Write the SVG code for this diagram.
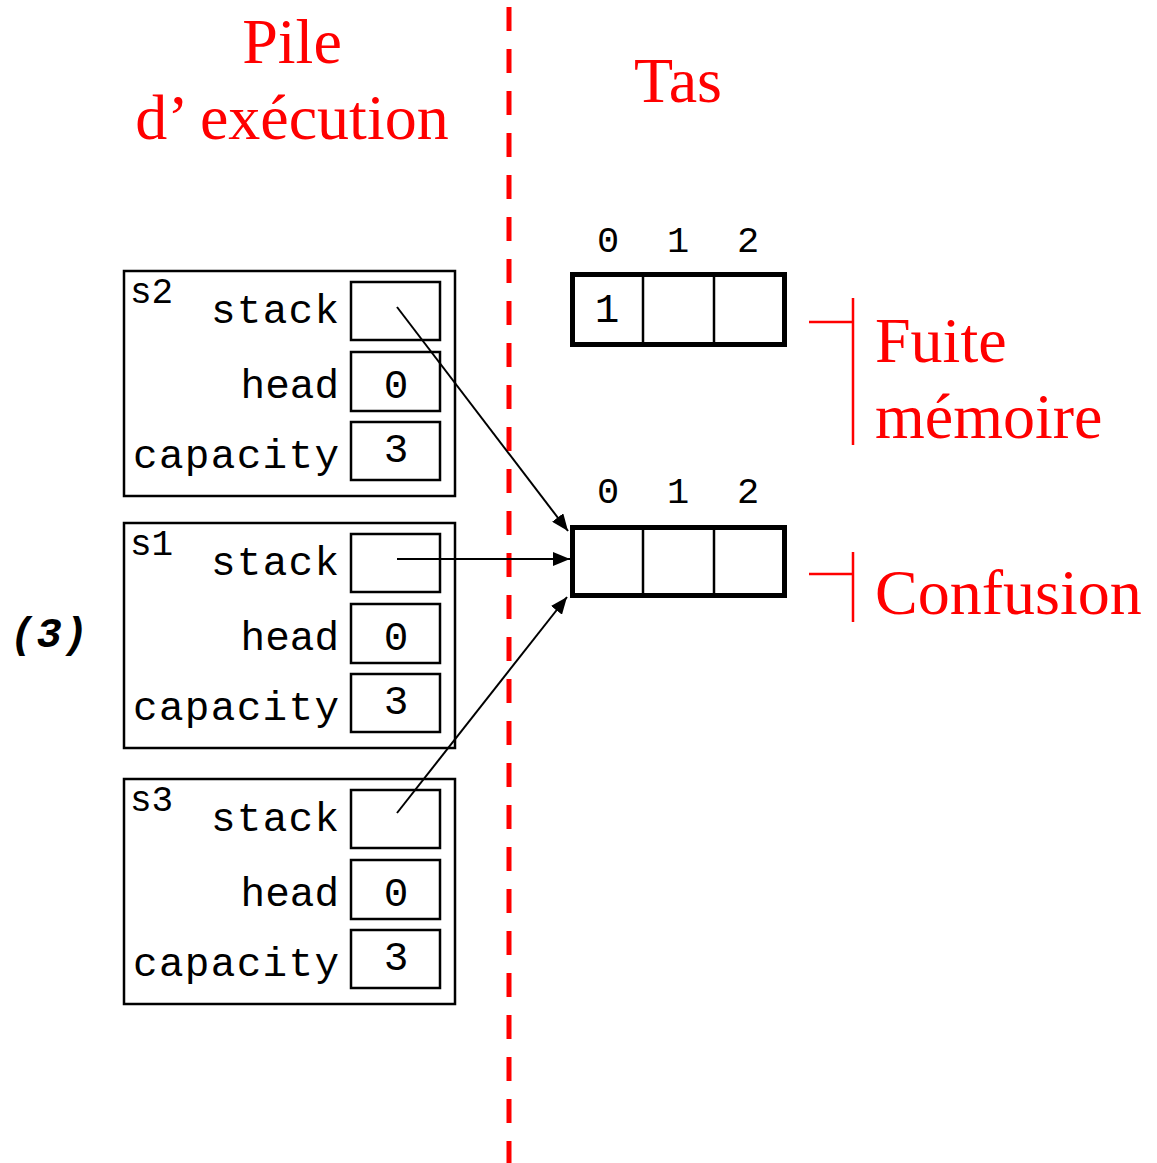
<svg xmlns="http://www.w3.org/2000/svg" width="1157" height="1163" viewBox="0 0 1157 1163">
<style>
.red{font-family:"Liberation Serif","Times New Roman",serif;font-size:64px;fill:#ff0000}
.mono{font-family:"Liberation Mono","Courier New",monospace;font-size:41px;fill:#000}
.lbl{font-family:"Liberation Mono","Courier New",monospace;font-size:36px;fill:#000}
.idx{font-family:"Liberation Mono","Courier New",monospace;font-size:37px;fill:#000;text-anchor:middle}
.box{fill:none;stroke:#000;stroke-width:2.5}
.arr{fill:none;stroke:#000;stroke-width:5}
.div{stroke:#000;stroke-width:2.5}
.redl{stroke:#ff0000;stroke-width:2.5;fill:none}
.conn{stroke:#000;stroke-width:2;fill:none;marker-end:url(#ah)}
</style>
<defs>
<marker id="ah" markerUnits="userSpaceOnUse" markerWidth="18" markerHeight="14" refX="17" refY="7" orient="auto">
<path d="M0,0 L17,7 L0,14 z" fill="#000"/>
</marker>
</defs>
<rect width="1157" height="1163" fill="#fff"/>
<line x1="509" y1="7" x2="509" y2="1163" stroke="#ff0000" stroke-width="5" stroke-dasharray="24 18"/>
<g id="titles">
<text class="red" x="292" y="63" text-anchor="middle">Pile</text>
<text class="red" x="292" y="139" text-anchor="middle">d’ exécution</text>
<text class="red" x="678" y="102" text-anchor="middle">Tas</text>
</g>
<text id="step" x="10" y="647" font-family="Liberation Mono,monospace" font-size="42" font-weight="bold" font-style="italic" textLength="78" lengthAdjust="spacing">(3)</text>
<g id="s2">
<rect class="box" x="124" y="271" width="331" height="225"/>
<text class="lbl" x="130" y="303">s2</text>
<text class="mono" x="339" y="323" text-anchor="end" textLength="128" lengthAdjust="spacing">stack</text>
<text class="mono" x="339" y="398" text-anchor="end">head</text>
<text class="mono" x="339" y="468" text-anchor="end" textLength="206" lengthAdjust="spacing">capacity</text>
<rect class="box" x="351" y="282" width="89" height="58"/>
<rect class="box" x="351" y="352" width="89" height="59"/>
<rect class="box" x="351" y="422" width="89" height="58"/>
<text class="mono" x="396" y="398" text-anchor="middle">0</text>
<text class="mono" x="396" y="462" text-anchor="middle">3</text>
</g>
<g id="s1">
<rect class="box" x="124" y="523" width="331" height="225"/>
<text class="lbl" x="130" y="555">s1</text>
<text class="mono" x="339" y="575" text-anchor="end" textLength="128" lengthAdjust="spacing">stack</text>
<text class="mono" x="339" y="650" text-anchor="end">head</text>
<text class="mono" x="339" y="720" text-anchor="end" textLength="206" lengthAdjust="spacing">capacity</text>
<rect class="box" x="351" y="534" width="89" height="58"/>
<rect class="box" x="351" y="604" width="89" height="59"/>
<rect class="box" x="351" y="674" width="89" height="58"/>
<text class="mono" x="396" y="650" text-anchor="middle">0</text>
<text class="mono" x="396" y="714" text-anchor="middle">3</text>
</g>
<g id="s3">
<rect class="box" x="124" y="779" width="331" height="225"/>
<text class="lbl" x="130" y="811">s3</text>
<text class="mono" x="339" y="831" text-anchor="end" textLength="128" lengthAdjust="spacing">stack</text>
<text class="mono" x="339" y="906" text-anchor="end">head</text>
<text class="mono" x="339" y="976" text-anchor="end" textLength="206" lengthAdjust="spacing">capacity</text>
<rect class="box" x="351" y="790" width="89" height="58"/>
<rect class="box" x="351" y="860" width="89" height="59"/>
<rect class="box" x="351" y="930" width="89" height="58"/>
<text class="mono" x="396" y="906" text-anchor="middle">0</text>
<text class="mono" x="396" y="970" text-anchor="middle">3</text>
</g>
<g id="array1">
<text class="idx" x="608" y="252">0</text>
<text class="idx" x="678" y="252">1</text>
<text class="idx" x="748" y="252">2</text>
<rect class="arr" x="572.5" y="274.5" width="212" height="70"/>
<line class="div" x1="643" y1="274" x2="643" y2="345"/>
<line class="div" x1="714" y1="274" x2="714" y2="345"/>
<text class="mono" x="607" y="322" text-anchor="middle">1</text>
</g>
<g id="array2">
<text class="idx" x="608" y="503">0</text>
<text class="idx" x="678" y="503">1</text>
<text class="idx" x="748" y="503">2</text>
<rect class="arr" x="572.5" y="527.5" width="212" height="68"/>
<line class="div" x1="643" y1="527" x2="643" y2="596"/>
<line class="div" x1="714" y1="527" x2="714" y2="596"/>
</g>
<g id="leak">
<path class="redl" d="M809,322 H853 M853,298 V445"/>
<text class="red" x="875" y="362">Fuite</text>
<text class="red" x="875" y="438">mémoire</text>
</g>
<g id="confusion">
<path class="redl" d="M809,574 H853 M853,552 V622"/>
<text class="red" x="875" y="614">Confusion</text>
</g>
<g id="connectors">
<line class="conn" x1="397" y1="307" x2="568" y2="531"/>
<line class="conn" x1="397" y1="559" x2="570" y2="559"/>
<line class="conn" x1="397" y1="813" x2="567" y2="597"/>
</g>
</svg>
